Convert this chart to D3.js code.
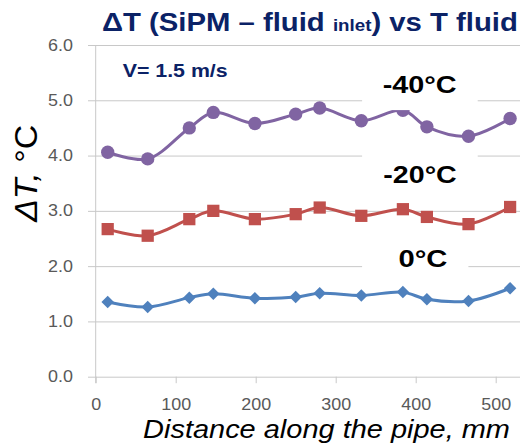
<!DOCTYPE html>
<html lang="en">
<head>
<meta charset="UTF-8">
<title>ΔT (SiPM – fluid inlet) vs T fluid</title>
<script src="https://cdn.jsdelivr.net/npm/d3@7"></script>
<style>
  body { margin: 0; background: #fff; }
  svg { display: block; font-family: "Liberation Sans", Arial, sans-serif; }
  .grid line { stroke: #c8c8c8; stroke-width: 1; }
  .tick text { fill: #595959; font-size: 16px; }
</style>
</head>
<body>
<svg width="525" height="445"></svg>
<script>
// data
const distance = [15, 65, 117, 147, 199, 250, 280, 332, 384, 414, 466, 518];
const dT_m40 = [4.06, 3.94, 4.50, 4.78, 4.58, 4.75, 4.86, 4.63, 4.82, 4.52, 4.35, 4.67];
const dT_m20 = [2.67, 2.55, 2.85, 3.00, 2.85, 2.94, 3.06, 2.91, 3.03, 2.89, 2.76, 3.07];
const dT_0   = [1.35, 1.26, 1.43, 1.50, 1.42, 1.44, 1.51, 1.47, 1.53, 1.40, 1.37, 1.60];
const xTicks = [0, 100, 200, 300, 400, 500];
const yTicks = [0, 1, 2, 3, 4, 5, 6];
const seriesNames = ["-40°C", "-20°C", "0°C"];

const svg = d3.select("svg");
const TSX = 1.12; // picture is stretched horizontally

const x = d3.scaleLinear().domain([0, 530]).range([95.7, 519.7]);
const y = d3.scaleLinear().domain([0, 6]).range([376.7, 45]);

// gridlines + y tick labels
const gy = svg.append("g")
  .attr("class", "grid")
  .attr("transform", "translate(88,0)")
  .call(d3.axisLeft(y).tickValues(yTicks).tickFormat(d3.format(".1f"))
    .tickSize(-(520 - 88)).tickPadding(15));
gy.select(".domain").remove();
gy.selectAll(".tick text")
  .attr("transform", `scale(${TSX},1)`)
  .attr("x", -15 / TSX);

// vertical axis line
svg.append("line")
  .attr("x1", x(0)).attr("x2", x(0))
  .attr("y1", y(6)).attr("y2", y(0) + 6.5)
  .attr("stroke", "#c8c8c8");

// x axis
const gx = svg.append("g")
  .attr("class", "grid")
  .attr("transform", `translate(0,${y(0)})`)
  .call(d3.axisBottom(x).tickValues(xTicks).tickSize(6.5));
gx.select(".domain").remove();
gx.selectAll(".tick text")
  .attr("y", 33.3).attr("dy", null)
  .attr("transform", `scale(${TSX},1)`);

// series
const series = [
  { name: seriesNames[0], values: dT_m40, color: "#8064A2", shape: "circle" },
  { name: seriesNames[1], values: dT_m20, color: "#C0504D", shape: "square" },
  { name: seriesNames[2], values: dT_0,   color: "#4F81BD", shape: "diamond" }
];

const line = d3.line()
  .x(d => x(d[0]))
  .y(d => y(d[1]))
  .curve(d3.curveCatmullRom);

series.forEach(s => {
  const pts = distance.map((d, i) => [d, s.values[i]]);
  svg.append("path")
    .attr("d", line(pts))
    .attr("fill", "none")
    .attr("stroke", s.color)
    .attr("stroke-width", 3);
  const sym = s.shape === "circle" ? d3.symbol(d3.symbolCircle, 140)
    : s.shape === "square" ? d3.symbol(d3.symbolSquare, 150)
    : d3.symbol(d3.symbolSquare, 78);
  svg.append("g").selectAll("path")
    .data(pts)
    .join("path")
    .attr("d", sym)
    .attr("fill", s.color)
    .attr("transform", d => `translate(${x(d[0])},${y(d[1])})` + (s.shape === "diamond" ? " rotate(45)" : ""));
});

// text helper: place text at (px,py) and stretch it to a given width
function put(str, px, py, w, opts) {
  const g = svg.append("g").attr("transform", `translate(${px},${py})${opts.rotate ? " rotate(-90)" : ""}`);
  const t = g.append("text")
    .attr("text-anchor", opts.anchor || "start")
    .attr("font-size", opts.size)
    .attr("font-weight", opts.bold ? "bold" : null)
    .attr("font-style", opts.italic ? "italic" : null)
    .attr("fill", opts.color || "#000");
  if (typeof str === "function") str(t); else t.text(str);
  const sx = w / t.node().getComputedTextLength();
  t.attr("transform", `scale(${sx},${opts.sy || 1})`);
  return t;
}

// series labels with white boxes (they cover gridlines)
const labelAt = [[405, 5.13], [405.4, 3.50], [409, 1.98]];
const labelW = [74, 73.4, 49];
seriesNames.forEach((name, i) => {
  const cx = x(labelAt[i][0]), by = y(labelAt[i][1]);
  svg.append("rect")
    .attr("x", x(333))
    .attr("y", by - 34)
    .attr("width", cx + labelW[i] / 2 + 21 - x(333))
    .attr("height", 51)
    .attr("fill", "#fff");
  put(name, cx, by, labelW[i], { anchor: "middle", size: 24, bold: true });
});

// title
put(t => {
  t.append("tspan").text("ΔT (SiPM – fluid ");
  t.append("tspan").attr("font-size", 16).text("inlet");
  t.append("tspan").text(") vs T fluid");
}, 102, 30.7, 416, { size: 25, bold: true, color: "#0b2266" });

// velocity note
put("V= 1.5 m/s", 122.7, 77, 105, { size: 18, bold: true, color: "#0b2266" });

// axis titles
put(t => {
  t.append("tspan").attr("font-style", "italic").text("ΔT, ");
  t.append("tspan").text("°C");
}, 36.5, 173.4, 97, { anchor: "middle", size: 27, rotate: true, sy: 1.15 });

put("Distance along the pipe, mm", 510, 438.3, 367, { anchor: "end", size: 25, italic: true });
</script>
</body>
</html>
